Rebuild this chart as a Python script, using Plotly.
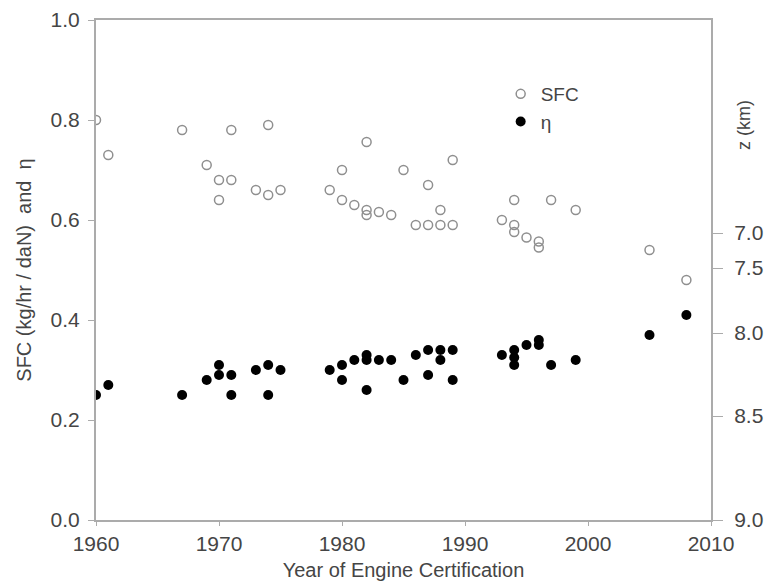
import plotly.graph_objects as go

# SFC (open circles)
sfc_year = [1960, 1961, 1967, 1969, 1970, 1970, 1971, 1971, 1973, 1974, 1974, 1975,
            1979, 1980, 1980, 1981, 1982, 1982, 1982, 1983, 1984, 1985, 1986, 1987,
            1987, 1988, 1988, 1989, 1989, 1993, 1994, 1994, 1994, 1995, 1996, 1996,
            1997, 1999, 2005, 2008]
sfc_val = [0.80, 0.73, 0.78, 0.71, 0.68, 0.64, 0.78, 0.68, 0.66, 0.79, 0.65, 0.66,
           0.66, 0.70, 0.64, 0.63, 0.756, 0.62, 0.61, 0.616, 0.61, 0.70, 0.59, 0.67,
           0.59, 0.62, 0.59, 0.72, 0.59, 0.60, 0.64, 0.59, 0.576, 0.565, 0.557, 0.545,
           0.64, 0.62, 0.54, 0.48]

# eta (filled circles)
eta_year = [1960, 1961, 1967, 1969, 1970, 1970, 1971, 1971, 1973, 1974, 1974, 1975,
            1979, 1980, 1980, 1981, 1982, 1982, 1982, 1983, 1984, 1985, 1986, 1987,
            1987, 1988, 1988, 1989, 1989, 1993, 1994, 1994, 1994, 1995, 1996, 1996,
            1997, 1999, 2005, 2008]
eta_val = [0.25, 0.27, 0.25, 0.28, 0.31, 0.29, 0.29, 0.25, 0.30, 0.31, 0.25, 0.30,
           0.30, 0.31, 0.28, 0.32, 0.33, 0.32, 0.26, 0.32, 0.32, 0.28, 0.33, 0.34,
           0.29, 0.34, 0.32, 0.34, 0.28, 0.33, 0.34, 0.325, 0.31, 0.35, 0.36, 0.35,
           0.31, 0.32, 0.37, 0.41]

# right-hand altitude scale (z in km) and where it sits on the left scale
z_labels = ["7.0", "7.5", "8.0", "8.5", "9.0"]
z_pos = [0.574, 0.504, 0.374, 0.208, 0.0]

font = "Liberation Sans, Arial, sans-serif"
txt = "#454545"
axc = "#ababab"

fig = go.Figure()
fig.add_trace(go.Scatter(
    x=sfc_year, y=sfc_val, mode="markers", name="SFC",
    marker=dict(symbol="circle-open", size=9, color="#8f8f8f", line=dict(width=1.5))
))
fig.add_trace(go.Scatter(
    x=eta_year, y=eta_val, mode="markers", name="η",
    marker=dict(symbol="circle", size=10, color="black")
))
# empty trace so the right axis is drawn
fig.add_trace(go.Scatter(x=[], y=[], yaxis="y2", showlegend=False, hoverinfo="skip"))

# the page has an 8px body margin, so the figure is shifted by that much
fig.update_layout(
    width=772, height=582,
    margin=dict(l=88, r=69, t=12, b=70, autoexpand=False),
    plot_bgcolor="white", paper_bgcolor="white",
    font=dict(family=font, size=21, color=txt),
    showlegend=True,
    legend=dict(x=0.658, y=0.89, xanchor="left", yanchor="top",
                bgcolor="rgba(0,0,0,0)", itemwidth=30,
                font=dict(size=19, color=txt), tracegroupgap=0),
    xaxis=dict(range=[1960, 2010], dtick=10, showgrid=False, zeroline=False,
               showline=True, linecolor=axc, linewidth=2, mirror=True,
               ticks="outside", ticklen=4, tickcolor=axc, automargin=False,
               ticklabeloverflow="allow",
               title=dict(text="Year of Engine Certification", standoff=9,
                          font=dict(size=20, color=txt))),
    yaxis=dict(range=[0, 1], dtick=0.2, tickformat=".1f", showgrid=False, zeroline=False,
               showline=True, linecolor=axc, linewidth=2, automargin=False,
               ticks="outside", ticklen=6, tickcolor=axc, ticklabelstandoff=4,
               ticklabeloverflow="allow",
               title=dict(text="SFC (kg/hr / daN)  and  η", standoff=14,
                          font=dict(size=20, color=txt))),
    yaxis2=dict(overlaying="y", side="right", range=[0, 1], automargin=False,
                tickvals=z_pos, ticktext=z_labels, showgrid=False, zeroline=False,
                showline=True, linecolor=axc, linewidth=2, ticklabelstandoff=7,
                ticks="outside", ticklen=10, tickcolor=axc, ticklabeloverflow="allow"),
)

fig.add_annotation(text="z (km)", xref="paper", yref="y", x=1.0, y=0.79,
                   xanchor="left", yanchor="middle", xshift=21, textangle=-90,
                   showarrow=False, font=dict(size=18, color=txt))

fig.write_html("out.html")
